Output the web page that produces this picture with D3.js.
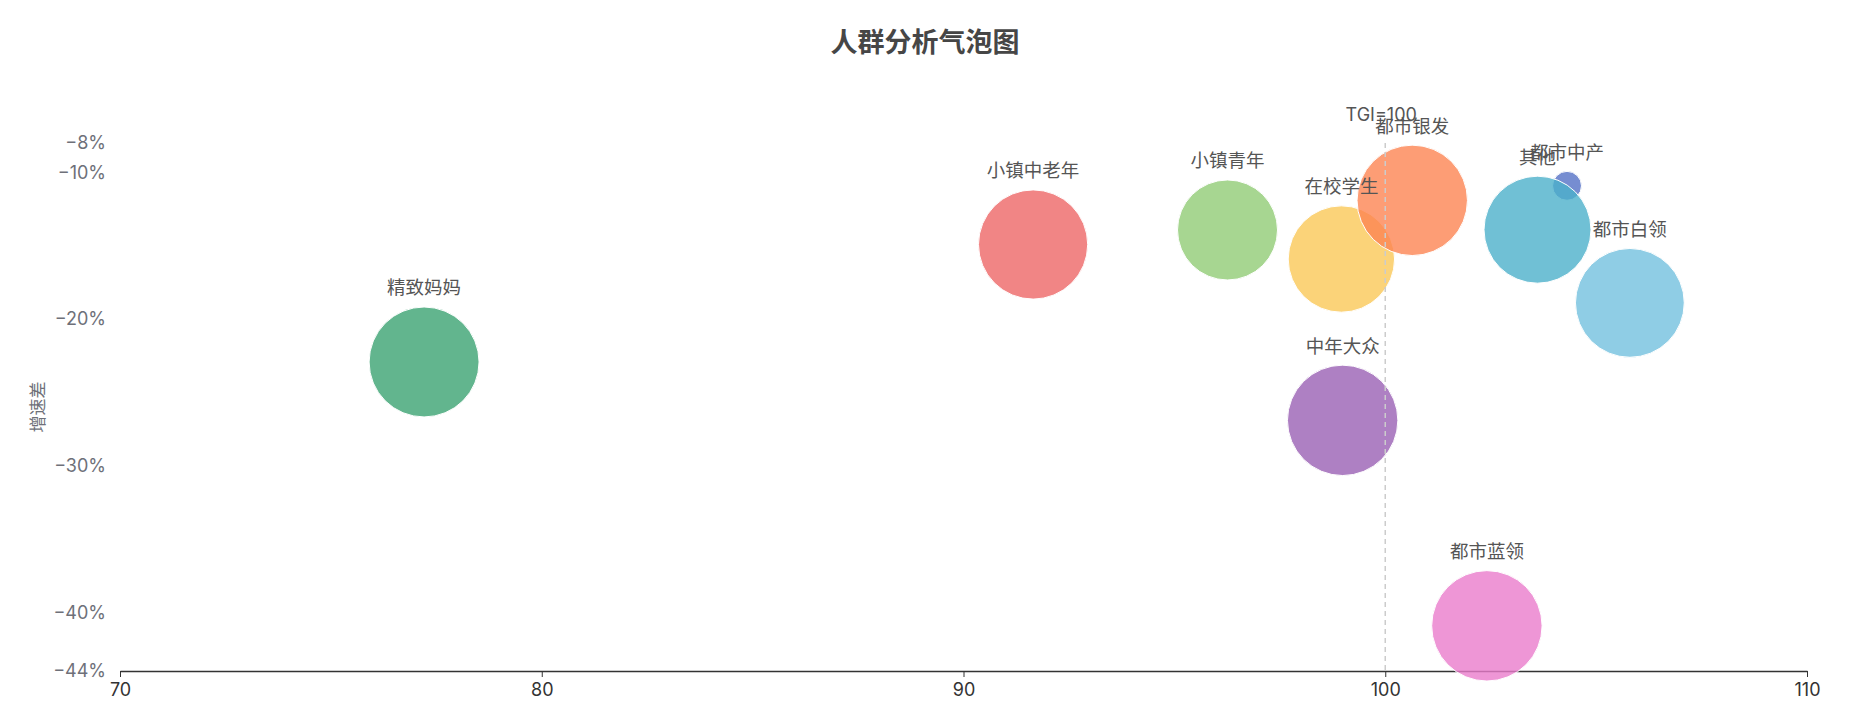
<!DOCTYPE html>
<html>
<head>
<meta charset="utf-8">
<script src="https://cdn.jsdelivr.net/npm/d3@7"></script>
<style>
  body { margin: 0; background: #fff; }
  text { font-family: Inter, 'Noto Sans CJK SC', sans-serif; }
</style>
</head>
<body>
<div id="chart"></div>
<script>
// draw order follows the series order of the original chart
const groups = ['都市中产', '小镇青年', '在校学生', '小镇中老年', '都市白领', '精致妈妈', '都市银发', '中年大众', '都市蓝领', '其他']
const tgi = [104.31, 96.26, 98.96, 91.65, 105.8, 77.21, 100.64, 98.99, 102.41, 103.61]
const growthGap = [-10.92, -13.93, -15.91, -14.92, -18.9, -22.93, -11.91, -26.91, -40.92, -13.91]
const bubbleSize = [0.86, 10.26, 11.6, 12.23, 12.14, 12.4, 12.5, 12.5, 12.5, 11.74]
const colors = ['#5470c6', '#91cc75', '#fac858', '#ee6666', '#73c0de', '#3ba272', '#fc8452', '#9a60b4', '#ea7ccc', '#4cb0ca']
const xTicks = [70, 80, 90, 100, 110]
const yTicks = [-8, -10, -20, -30, -40, -44]

const width = 1850,
  height = 724

const svg = d3
  .select('#chart')
  .append('svg')
  .attr('width', width)
  .attr('height', height)

const x = d3.scaleLinear().domain([70, 110]).range([120, 1807])
const y = d3.scaleLinear().domain([-44, -8]).range([671, 143])
const r = d3.scaleSqrt().domain([0, 12.5]).range([0, 55.2])
const pct = d => d3.format('.0%')(d / 100)

// title
svg.append('text')
  .attr('x', width / 2)
  .attr('y', 43)
  .attr('dy', '0.35em')
  .attr('text-anchor', 'middle')
  .attr('font-size', 27)
  .attr('font-weight', 'bold')
  .attr('fill', '#464646')
  .text('人群分析气泡图')

// y axis labels only, no line
const yAxis = svg.append('g')
  .attr('transform', 'translate(114,0)')
  .call(d3.axisLeft(y).tickValues(yTicks).tickFormat(pct).tickSize(0).tickPadding(8))
yAxis.select('.domain').remove()
yAxis.selectAll('text')
  .attr('font-size', 18)
  .attr('fill', '#6e7079')
  .style('font-family', "Inter, 'Noto Sans CJK SC', sans-serif")

svg.append('text')
  .attr('transform', 'translate(38,407) rotate(-90)')
  .attr('dy', '0.35em')
  .attr('text-anchor', 'middle')
  .attr('font-size', 17)
  .attr('fill', '#6e7079')
  .text('增速差')

// x axis
const xAxis = svg.append('g')
  .attr('transform', 'translate(0,671)')
  .call(d3.axisBottom(x).tickValues(xTicks).tickSize(6).tickPadding(6).tickSizeOuter(0))
xAxis.select('.domain').attr('stroke', '#333').attr('stroke-width', 1.3)
xAxis.selectAll('.tick line').attr('stroke', '#333')
xAxis.selectAll('text')
  .attr('font-size', 18)
  .attr('fill', '#333')
  .style('font-family', "Inter, 'Noto Sans CJK SC', sans-serif")

// bubbles
const data = groups.map((name, i) => ({
  name,
  tgi: tgi[i],
  gap: growthGap[i],
  size: bubbleSize[i],
  color: colors[i],
}))

svg.append('g')
  .selectAll('circle')
  .data(data)
  .enter()
  .append('circle')
  .attr('cx', d => x(d.tgi))
  .attr('cy', d => y(d.gap))
  .attr('r', d => r(d.size))
  .attr('fill', d => d.color)
  .attr('fill-opacity', 0.8)
  .attr('stroke', '#fff')
  .attr('stroke-width', 1)

// TGI = 100 reference line
svg.append('line')
  .attr('x1', x(100))
  .attr('x2', x(100))
  .attr('y1', y(-8))
  .attr('y2', y(-44))
  .attr('stroke', '#cccccc')
  .attr('stroke-width', 1.5)
  .attr('stroke-dasharray', '5,4')

svg.append('text')
  .attr('x', x(100) - 4)
  .attr('y', 115)
  .attr('dy', '0.35em')
  .attr('text-anchor', 'middle')
  .attr('font-size', 18)
  .attr('fill', '#555')
  .text('TGI=100')

// labels above each bubble
svg.append('g')
  .selectAll('text')
  .data(data)
  .enter()
  .append('text')
  .attr('x', d => x(d.tgi))
  .attr('y', d => y(d.gap) - r(d.size) - 19)
  .attr('dy', '0.35em')
  .attr('text-anchor', 'middle')
  .attr('font-size', 18.5)
  .attr('fill', '#555')
  .text(d => d.name)
</script>
</body>
</html>
